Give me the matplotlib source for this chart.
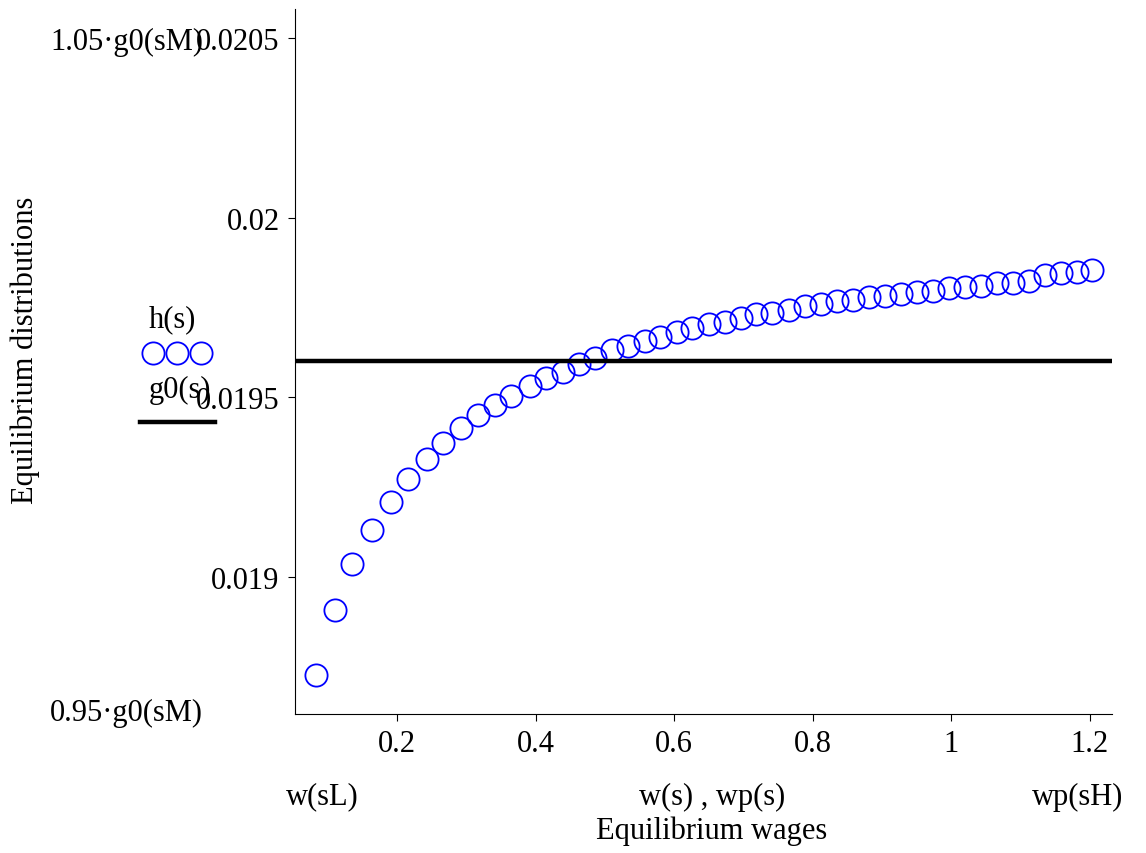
import matplotlib
matplotlib.use('Agg')
from matplotlib import pyplot as plt
from matplotlib.lines import Line2D

wages = [0.083, 0.110, 0.135, 0.164, 0.191, 0.216, 0.243, 0.266, 0.292, 0.317,
         0.341, 0.365, 0.392, 0.415, 0.440, 0.463, 0.486, 0.510, 0.533, 0.558,
         0.579, 0.604, 0.626, 0.650, 0.673, 0.696, 0.718, 0.741, 0.766, 0.789,
         0.812, 0.835, 0.858, 0.881, 0.904, 0.927, 0.950, 0.973, 0.997, 1.020,
         1.043, 1.066, 1.089, 1.112, 1.135, 1.158, 1.181, 1.203]
h = [0.018728, 0.018908, 0.019036, 0.019131, 0.019208, 0.019272, 0.019328, 0.019372,
     0.019414, 0.019450, 0.019478, 0.019503, 0.019531, 0.019553, 0.019572, 0.019594,
     0.019611, 0.019631, 0.019642, 0.019658, 0.019669, 0.019683, 0.019694, 0.019703,
     0.019711, 0.019722, 0.019731, 0.019736, 0.019744, 0.019753, 0.019761, 0.019767,
     0.019772, 0.019778, 0.019783, 0.019789, 0.019794, 0.019797, 0.019803, 0.019808,
     0.019811, 0.019817, 0.019819, 0.019825, 0.019840, 0.019845, 0.019850, 0.019855]
g0 = 0.0196
xticks = [0.2, 0.4, 0.6, 0.8, 1.0, 1.2]
xticklabels = ['0.2', '0.4', '0.6', '0.8', '1', '1.2']
yticks = [0.019, 0.0195, 0.02, 0.0205]
yticklabels = ['0.019', '0.0195', '0.02', '0.0205']

fs = 22
plt.rcParams['font.family'] = ['Liberation Serif', 'DejaVu Serif']
plt.rcParams['font.size'] = fs

fig = plt.figure(figsize=(11.46, 8.54), dpi=100)
ax = fig.add_axes([0.2574, 0.1628, 0.7129, 0.8255])
ax.plot(wages, h, 'o', mfc='none', mec='blue', ms=16, mew=1.3)
ax.axhline(g0, color='black', lw=3.2)
ax.set_xlim(0.0528, 1.232)
ax.set_ylim(0.95 * g0, 1.05 * g0)
ax.set_xticks(xticks)
ax.set_xticklabels(xticklabels)
ax.set_yticks(yticks)
ax.set_yticklabels(yticklabels)
for s in ['top', 'right']:
    ax.spines[s].set_visible(False)
ax.tick_params(axis='both', direction='out', length=5, pad=6, labelsize=fs)

fig.text(50 / 1146, 1 - 42 / 854, '1.05·g0(sM)', va='center', ha='left')
fig.text(50 / 1146, 1 - 713 / 854, '0.95·g0(sM)', va='center', ha='left')
fig.text(322 / 1146, 1 - 797 / 854, 'w(sL)', va='center', ha='center')
fig.text(712 / 1146, 1 - 797 / 854, 'w(s) , wp(s)', va='center', ha='center')
fig.text(1078 / 1146, 1 - 797 / 854, 'wp(sH)', va='center', ha='center')
fig.text(712 / 1146, 1 - 831 / 854, 'Equilibrium wages', va='center', ha='center')
fig.text(25 / 1146, 1 - 350 / 854, 'Equilibrium distributions', va='center', ha='center',
         rotation=90)

# legend drawn by hand like the original
fig.text(172 / 1146, 1 - 320 / 854, 'h(s)', va='center', ha='center')
fig.add_artist(Line2D([153 / 1146, 177 / 1146, 201 / 1146], [1 - 354 / 854] * 3,
                      ls='none', marker='o', mfc='none', mec='blue', ms=16, mew=1.3))
fig.text(180 / 1146, 1 - 390 / 854, 'g0(s)', va='center', ha='center')
fig.add_artist(Line2D([140 / 1146, 215 / 1146], [1 - 423 / 854] * 2, color='black', lw=3.2))

plt.savefig('out.png', dpi=100)
